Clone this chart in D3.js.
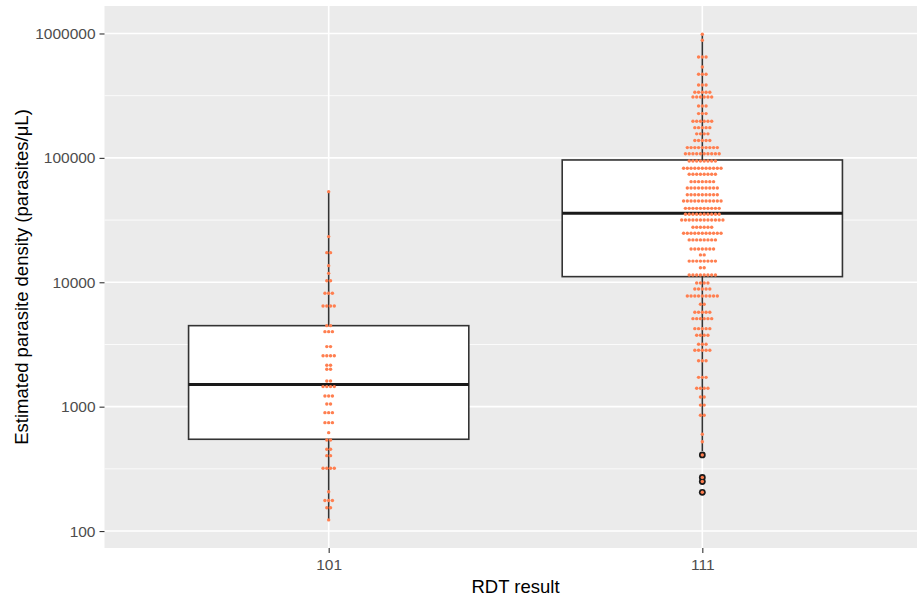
<!DOCTYPE html>
<html lang="en">
<head>
<meta charset="utf-8" />
<title>Parasite density by RDT result</title>
<script src="https://cdn.jsdelivr.net/npm/d3@7"></script>
<style>
  body { margin: 0; background: #fff; }
  svg { display: block; font-family: "Liberation Sans", Arial, sans-serif; }
</style>
</head>
<body>
<svg id="chart" width="917" height="598"></svg>
<script>
// x categories
const categories = ["101", "111"];

// boxplot summary per category (parasites/uL)
const whiskerLow = [123, 440];
const q1 = [547, 11100];
const medians = [1510, 35900];
const q3 = [4480, 96200];
const whiskerHigh = [53000, 985000];

// boxplot outliers, only in 111
const outliers111 = [409, 270, 250, 205];

// dotplot rows: bin value and how many dots are stacked in it
const dotValues101 = [53500, 23300, 17300, 13600, 11800, 10300, 8160, 6450, 4480, 4010,
  3040, 2570, 2150, 2000, 1610, 1450, 1220, 1050, 895, 744,
  618, 540, 455, 404, 320, 207, 176, 154, 123];
const dotCounts101 = [1, 1, 2, 1, 1, 2, 3, 4, 2, 3,
  2, 4, 2, 2, 2, 4, 3, 2, 3, 3,
  1, 2, 2, 2, 4, 1, 3, 2, 1];

const dotValues111 = [985000, 882000, 647000, 538000, 470000, 385000, 337000, 309000, 261000, 227000,
  197000, 175000, 156000, 138000, 121000, 108000, 94400, 82500, 73800, 64400,
  57300, 50600, 45000, 39300, 35200, 31700, 27700, 24800, 21900, 18500,
  16600, 14800, 13100, 11450, 9870, 8830, 7760, 6660, 5740, 5100,
  4240, 3750, 3175, 2840, 2340, 1720, 1405, 1197, 1030, 853,
  600, 523, 409, 270, 250, 205];
const dotCounts111 = [1, 1, 3, 1, 3, 3, 5, 6, 3, 3,
  6, 5, 4, 5, 9, 10, 8, 11, 8, 7,
  9, 9, 11, 10, 10, 12, 6, 11, 8, 7,
  2, 8, 2, 8, 4, 5, 9, 2, 5, 6,
  5, 4, 3, 5, 3, 3, 4, 2, 2, 2,
  1, 1, 1, 1, 1, 1];

const yTicks = [100, 1000, 10000, 100000, 1000000];

const svg = d3.select("#chart");
const width = +svg.attr("width");
const height = +svg.attr("height");

// panel runs past the right edge of the picture (the original was cropped)
const panel = {left: 104.5, right: 926.5, top: 6, bottom: 548};

const x = d3.scalePoint()
  .domain(categories)
  .range([panel.left, panel.right])
  .padding(0.6);

const y = d3.scaleLog()
  .domain([73.1, 1663000])
  .range([panel.bottom, panel.top]);

const boxWidth = x.step() * 0.75;
const dotStep = 3.75;
const dotR = 1.7;

// panel background
svg.append("rect")
  .attr("x", panel.left)
  .attr("y", panel.top)
  .attr("width", panel.right - panel.left)
  .attr("height", panel.bottom - panel.top)
  .attr("fill", "#EBEBEB");

// minor grid halfway between decades (log space)
const yMinor = d3.pairs(yTicks).map(([a, b]) => Math.sqrt(a * b));
svg.append("g")
  .selectAll("line")
  .data(yMinor)
  .join("line")
    .attr("x1", panel.left).attr("x2", panel.right)
    .attr("y1", d => y(d)).attr("y2", d => y(d))
    .attr("stroke", "#fff")
    .attr("stroke-width", 0.8);

// major grid
svg.append("g")
  .selectAll("line")
  .data(yTicks)
  .join("line")
    .attr("x1", panel.left).attr("x2", panel.right)
    .attr("y1", d => y(d)).attr("y2", d => y(d))
    .attr("stroke", "#fff")
    .attr("stroke-width", 1.6);

svg.append("g")
  .selectAll("line")
  .data(categories)
  .join("line")
    .attr("x1", d => x(d)).attr("x2", d => x(d))
    .attr("y1", panel.top).attr("y2", panel.bottom)
    .attr("stroke", "#fff")
    .attr("stroke-width", 1.6);

// boxplots
const boxes = svg.append("g")
  .selectAll("g")
  .data(categories)
  .join("g");

boxes.append("line")
  .attr("x1", d => x(d)).attr("x2", d => x(d))
  .attr("y1", (d, i) => y(whiskerHigh[i]))
  .attr("y2", (d, i) => y(q3[i]))
  .attr("stroke", "#333")
  .attr("stroke-width", 1.6);

boxes.append("line")
  .attr("x1", d => x(d)).attr("x2", d => x(d))
  .attr("y1", (d, i) => y(q1[i]))
  .attr("y2", (d, i) => y(whiskerLow[i]))
  .attr("stroke", "#333")
  .attr("stroke-width", 1.6);

boxes.append("rect")
  .attr("x", d => x(d) - boxWidth / 2)
  .attr("y", (d, i) => y(q3[i]))
  .attr("width", boxWidth)
  .attr("height", (d, i) => y(q1[i]) - y(q3[i]))
  .attr("fill", "#fff")
  .attr("stroke", "#333")
  .attr("stroke-width", 1.6);

boxes.append("line")
  .attr("x1", d => x(d) - boxWidth / 2)
  .attr("x2", d => x(d) + boxWidth / 2)
  .attr("y1", (d, i) => y(medians[i]))
  .attr("y2", (d, i) => y(medians[i]))
  .attr("stroke", "#1a1a1a")
  .attr("stroke-width", 3);

// outliers
svg.append("g")
  .selectAll("circle")
  .data(outliers111)
  .join("circle")
    .attr("cx", x("111"))
    .attr("cy", d => y(d))
    .attr("r", 3.4)
    .attr("fill", "#1a1a1a");

// dotplot: each row is centred on the category
function dotRows(cat, values, counts) {
  const out = [];
  values.forEach((v, i) => {
    const n = counts[i];
    for (let k = 0; k < n; k++) {
      out.push({cat: cat, value: v, offset: (k - (n - 1) / 2) * dotStep});
    }
  });
  return out;
}

const dots = dotRows("101", dotValues101, dotCounts101)
  .concat(dotRows("111", dotValues111, dotCounts111));

svg.append("g")
  .selectAll("circle")
  .data(dots)
  .join("circle")
    .attr("cx", d => x(d.cat) + d.offset)
    .attr("cy", d => y(d.value))
    .attr("r", dotR)
    .attr("fill", "#FF7F50");

// y axis
const yAxis = svg.append("g")
  .attr("transform", `translate(${panel.left},0)`)
  .call(d3.axisLeft(y).tickValues(yTicks).tickFormat(d3.format("d")).tickSize(5).tickPadding(4))
  .call(g => g.select(".domain").remove());
yAxis.selectAll(".tick line").attr("stroke", "#333").attr("stroke-width", 1.1);
yAxis.selectAll(".tick text")
  .attr("fill", "#4D4D4D")
  .attr("font-size", "15.5px")
  .attr("font-family", "'Liberation Sans', Arial, sans-serif");

// x axis
const xAxis = svg.append("g")
  .attr("transform", `translate(0,${panel.bottom})`)
  .call(d3.axisBottom(x).tickSize(5).tickPadding(6))
  .call(g => g.select(".domain").remove());
xAxis.selectAll(".tick line").attr("stroke", "#333").attr("stroke-width", 1.1);
xAxis.selectAll(".tick text")
  .attr("fill", "#4D4D4D")
  .attr("font-size", "15.5px")
  .attr("font-family", "'Liberation Sans', Arial, sans-serif");

// axis titles
svg.append("text")
  .attr("x", (panel.left + panel.right) / 2)
  .attr("y", 593)
  .attr("text-anchor", "middle")
  .attr("font-size", "18.5px")
  .attr("fill", "#000")
  .text("RDT result");

svg.append("text")
  .attr("transform", `translate(28,${(panel.top + panel.bottom) / 2}) rotate(-90)`)
  .attr("text-anchor", "middle")
  .attr("font-size", "18.5px")
  .attr("fill", "#000")
  .text("Estimated parasite density (parasites/μL)");
</script>
</body>
</html>
